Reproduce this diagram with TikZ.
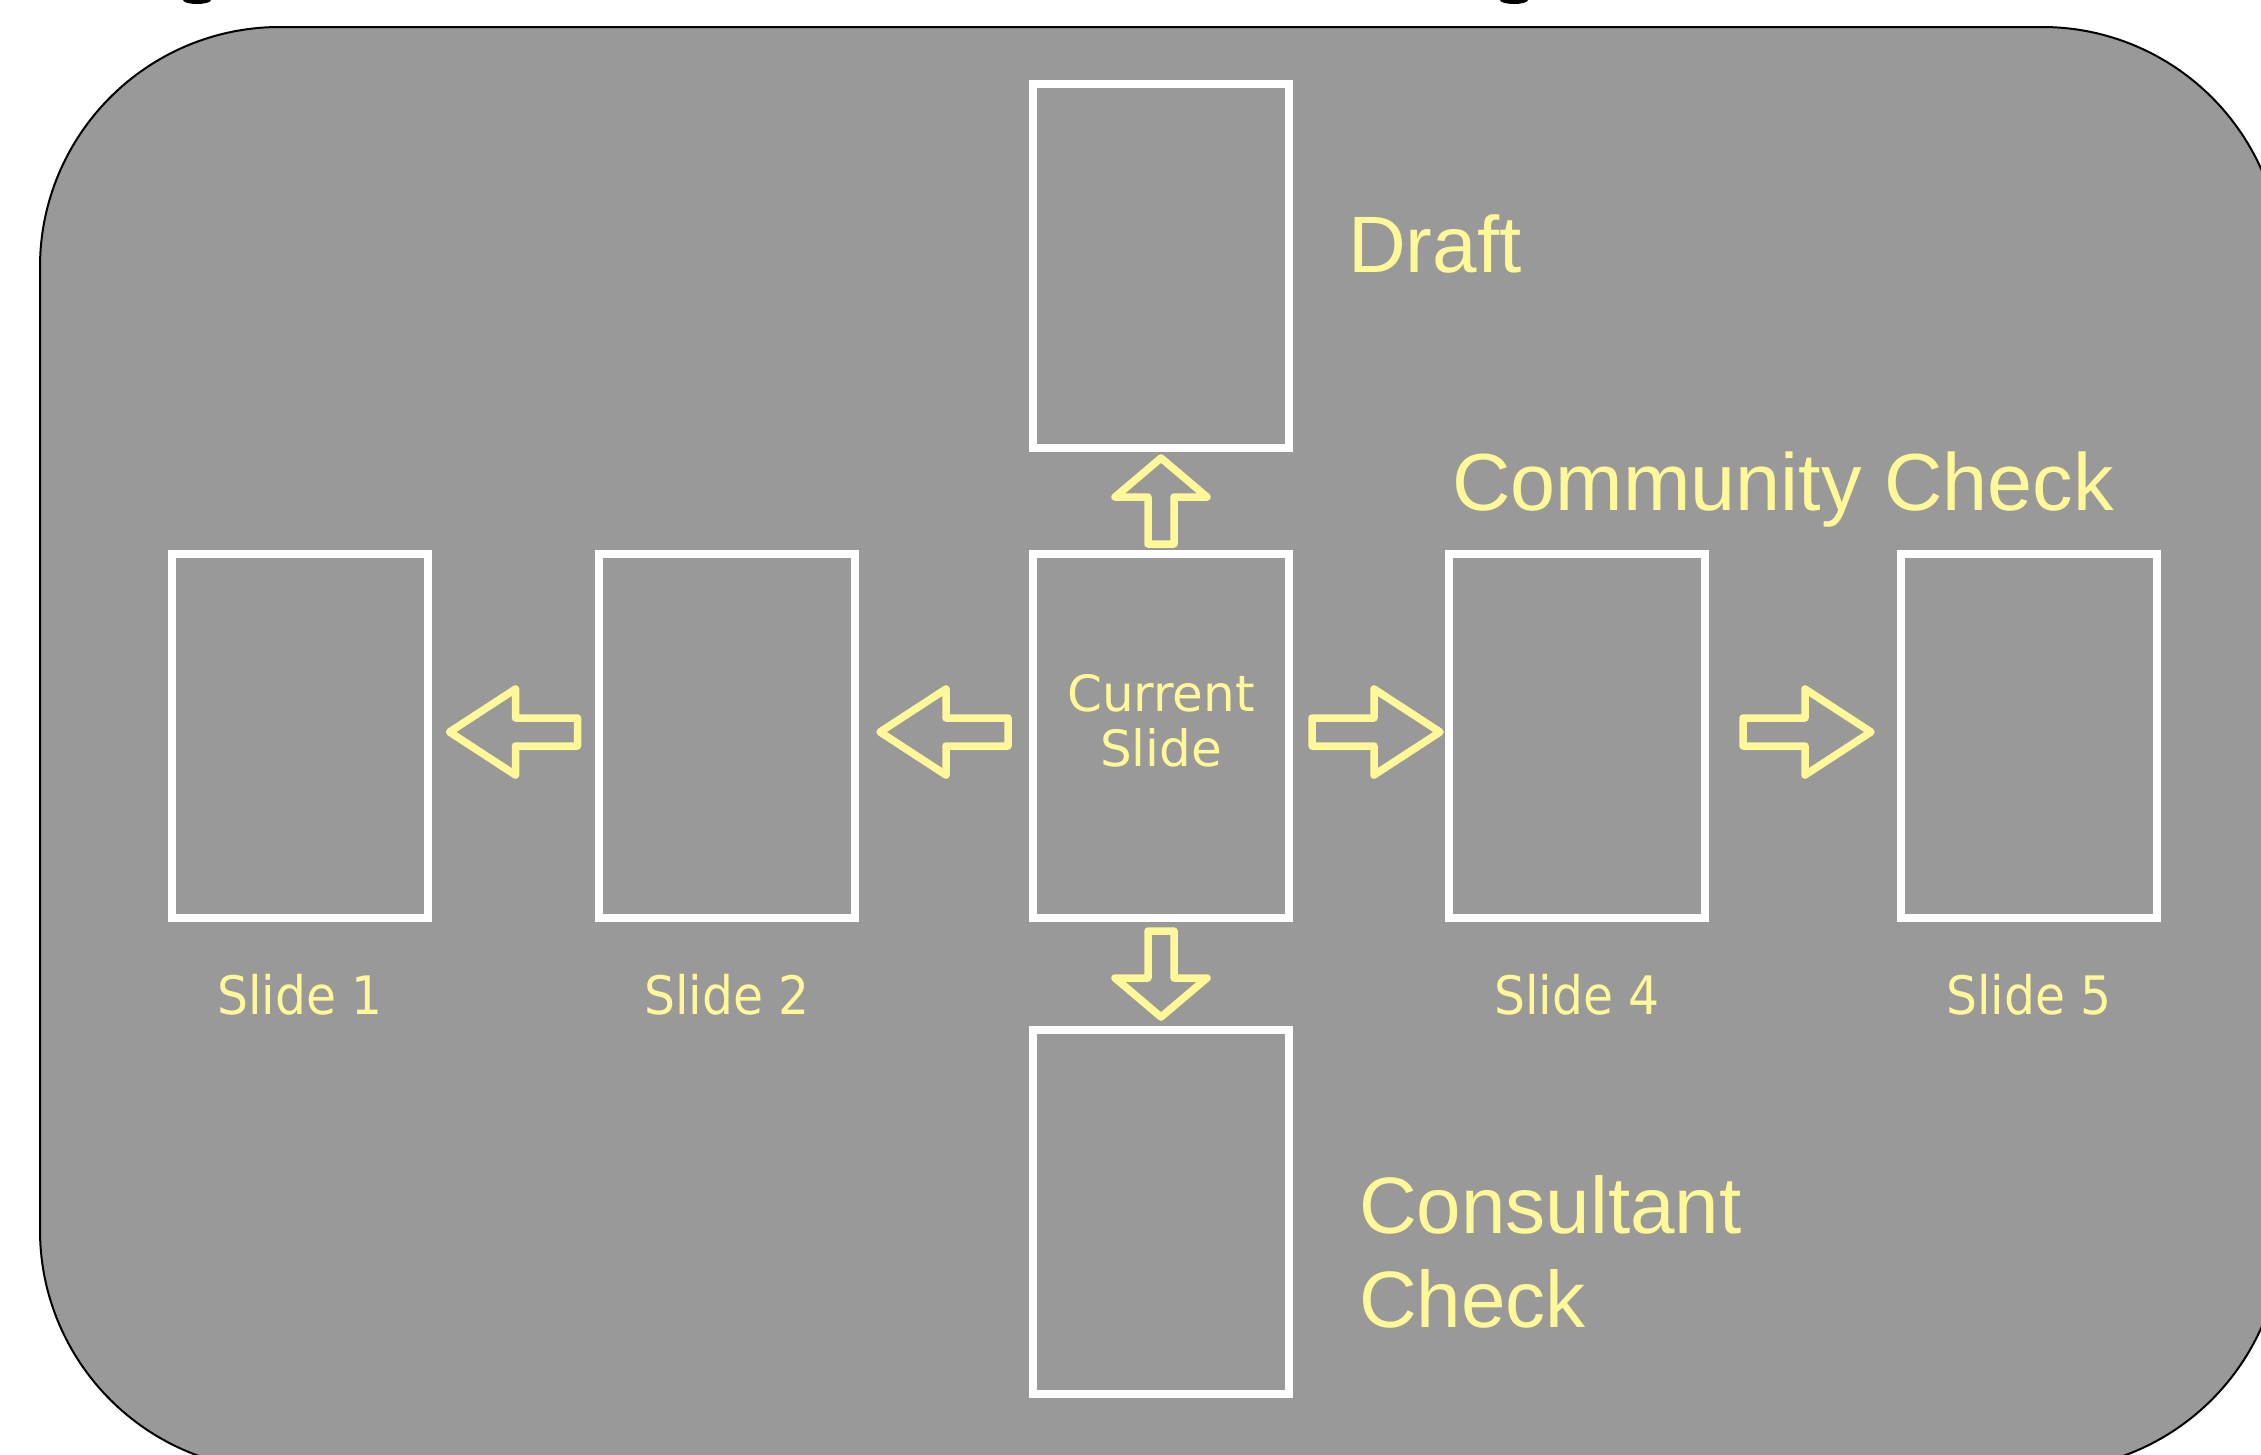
\documentclass[tikz,border=0pt]{standalone}
\usepackage{fontspec}
\setmainfont{Liberation Sans}
\newfontfamily\slfont[FakeStretch=0.92]{DejaVu Sans}
\newfontfamily\curfont{DejaVu Sans}
\usetikzlibrary{calc}
\definecolor{bgray}{RGB}{153,153,153}
\definecolor{ylw}{RGB}{255,248,153}
\tikzset{
  slidebox/.style={draw=white, line width=8pt, minimum width=256pt, minimum height=364pt, inner sep=0pt, outer sep=0pt},
  bigtext/.style={text=ylw, font=\fontsize{80}{94}\selectfont, inner sep=0pt, anchor=base west},
  smalltext/.style={text=ylw, font=\slfont\fontsize{53}{60}\selectfont, inner sep=0pt, anchor=base},
  curtext/.style={text=ylw, font=\curfont\fontsize{50}{55}\selectfont, inner sep=0pt, anchor=base},
  arrowline/.style={draw=ylw, line width=7.5pt, line join=round},
  harrow/.pic={\draw[arrowline] (-64,-14) -- (-2,-14) -- (-2,-43) -- (64,0) -- (-2,43) -- (-2,14) -- (-64,14) -- cycle;},
  varrow/.pic={\draw[arrowline] (-13,-43) -- (-13,4) -- (-46,4) -- (0,43) -- (46,4) -- (13,4) -- (13,-43) -- cycle;}
}
\begin{document}
\begin{tikzpicture}[x=1pt,y=-1pt]
\useasboundingbox (0,0) rectangle (2261,1454);
\clip (0,0) rectangle (2261,1454);
% cut-off fragments at the top edge
\fill[black] (197,0) ellipse [x radius=14, y radius=4];
\fill[black] (1514,0) ellipse [x radius=14, y radius=4];
% background panel
\draw[black, line width=2pt, fill=bgray, rounded corners=240pt] (40,27) rectangle (2282,1470);
% slide boxes
\node[slidebox] (draft) at (1161,266) {};
\node[slidebox] (cur) at (1161,736) {};
\node[slidebox] (cons) at (1161,1212) {};
\node[slidebox] (s1) at (300,736) {};
\node[slidebox] (s2) at (727,736) {};
\node[slidebox] (s4) at (1577,736) {};
\node[slidebox] (s5) at (2029,736) {};
% current slide text
\node[curtext] (curt1) at (1161,711) {Current};
\node[curtext] (curt2) at (1161,766) {Slide};
% slide labels
\node[smalltext] (l1) at ($(s1.south)+(0,96)$) {Slide 1};
\node[smalltext] (l2) at ($(s2.south)+(0,96)$) {Slide 2};
\node[smalltext] (l4) at ($(s4.south)+(0,96)$) {Slide 4};
\node[smalltext] (l5) at ($(s5.south)+(0,96)$) {Slide 5};
% big labels
\node[bigtext] (tdraft) at (1348,272) {Draft};
\node[bigtext, font=\fontsize{81}{94}\selectfont] (tcomm) at (1452,510) {Community Check};
\node[bigtext] (tcons1) at (1359,1233) {Consultant};
\node[bigtext] (tcons2) at (1359,1327) {Check};
% block arrows
\pic[xscale=-1] at ($(s1.east)!0.5!(s2.west)+(0,-4)$) {harrow};
\pic[xscale=-1] at ($(s2.east)!0.5!(cur.west)+(0,-4)$) {harrow};
\pic at ($(cur.east)!0.5!(s4.west)+(7,-4)$) {harrow};
\pic at ($(s4.east)!0.5!(s5.west)+(4,-4)$) {harrow};
\pic[yscale=-1] at ($(draft.south)!0.5!(cur.north)$) {varrow};
\pic at ($(cur.south)!0.5!(cons.north)$) {varrow};
\end{tikzpicture}
\end{document}
